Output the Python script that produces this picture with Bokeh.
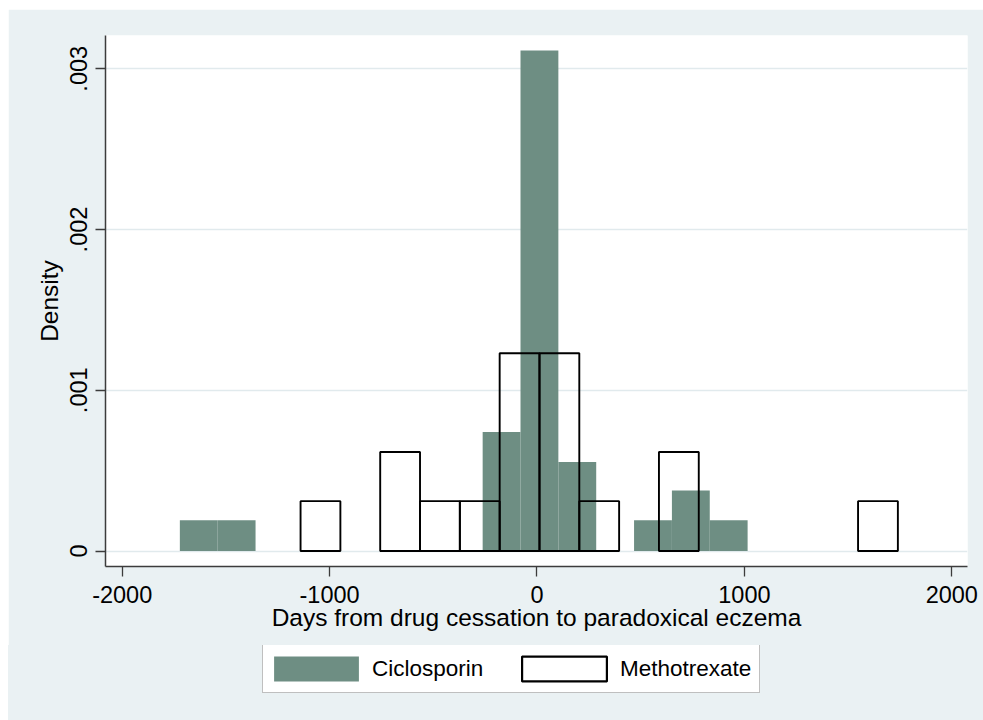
from bokeh.plotting import figure
from bokeh.layouts import column
from bokeh.models import Range1d, FixedTicker, Legend, LegendItem
from bokeh.embed import file_html
from bokeh.resources import INLINE

# ---- data ----
cic_left = [-1722.0, -1539.5, -262.0, -79.5, 103.0, 468.0, 650.5, 833.0]
cic_right = [-1539.5, -1357.0, -79.5, 103.0, 285.5, 650.5, 833.0, 1015.5]
cic_density = [0.000191, 0.000191, 0.00074, 0.003114, 0.000553, 0.000191, 0.000376, 0.000191]

mtx_left = [-1140, -756, -564, -372, -180, 12, 204, 588, 1548]
mtx_right = [-948, -564, -372, -180, 12, 204, 396, 780, 1740]
mtx_density = [0.00031, 0.000616, 0.00031, 0.00031, 0.00123, 0.00123, 0.00031, 0.000616, 0.00031]

x_ticks = [-2000, -1000, 0, 1000, 2000]
x_tick_labels = ["-2000", "-1000", "0", "1000", "2000"]
y_ticks = [0, 0.001, 0.002, 0.003]
y_tick_labels = ["0", ".001", ".002", ".003"]

series_names = ["Ciclosporin", "Methotrexate"]
x_title = "Days from drug cessation to paradoxical eczema"
y_title = "Density"

GREEN = "#6e8e83"
BG = "#eaf1f3"
FONT = "Liberation Sans"

p = figure(width=975, height=636, output_backend="svg", toolbar_location=None,
           x_range=Range1d(-2080.5, 2075.7), y_range=Range1d(-0.0000964, 0.003207),
           min_border_left=97, min_border_right=16, min_border_top=26, min_border_bottom=79,
           background_fill_color="white", border_fill_color=BG, outline_line_color=None)
p.margin = (9, 0, 0, 8)

p.quad(left=cic_left, right=cic_right, bottom=0, top=cic_density,
       fill_color=GREEN, line_color=None)
p.quad(left=mtx_left, right=mtx_right, bottom=0, top=mtx_density,
       fill_alpha=0, line_color="black", line_width=1.9)

# axes
p.xaxis.ticker = FixedTicker(ticks=x_ticks)
p.xaxis.major_label_overrides = dict(zip(x_ticks, x_tick_labels))
p.yaxis.ticker = FixedTicker(ticks=y_ticks)
p.yaxis.major_label_overrides = dict(zip(y_ticks, y_tick_labels))
p.yaxis.major_label_orientation = "vertical"
p.xaxis.axis_label = x_title
p.yaxis.axis_label = y_title
for ax in (p.xaxis, p.yaxis):
    ax.axis_line_color = "#3c3c3c"
    ax.axis_line_width = 1.5
    ax.major_tick_line_color = "#3c3c3c"
    ax.major_tick_line_width = 1.3
    ax.major_tick_out = 10
    ax.major_tick_in = 0
    ax.minor_tick_out = 0
    ax.minor_tick_in = 0
    ax.major_label_text_font = FONT
    ax.major_label_text_font_size = "23.5px"
    ax.major_label_text_color = "black"
    ax.axis_label_text_font = FONT
    ax.axis_label_text_font_size = "24.5px"
    ax.axis_label_text_font_style = "normal"
    ax.axis_label_text_color = "black"
p.xaxis.major_label_standoff = 9
p.xaxis.axis_label_standoff = -2
p.yaxis.major_label_standoff = 8
p.yaxis.axis_label_standoff = 5

p.xgrid.visible = False
p.ygrid.ticker = FixedTicker(ticks=y_ticks)
p.ygrid.grid_line_color = "#e1eaed"
p.ygrid.grid_line_width = 1.5

# legend strip (separate panel below the chart; its swatch glyphs sit outside its view)
p2 = figure(width=975, height=75, output_backend="svg", toolbar_location=None,
            x_range=Range1d(0, 1), y_range=Range1d(1, 2),
            x_axis_type=None, y_axis_type=None, min_border=0,
            background_fill_color=None, border_fill_color=None, outline_line_color=None)
p2.margin = (0, 0, 0, 8)
p2.styles = {"background-color": BG}
p2.grid.visible = False
g1 = p2.quad(left=cic_left, right=cic_right, bottom=0, top=cic_density,
             fill_color=GREEN, line_color=None)
g2 = p2.quad(left=mtx_left, right=mtx_right, bottom=0, top=mtx_density,
             fill_alpha=0, line_color="black", line_width=2.2)

legend = Legend(items=[LegendItem(label=series_names[0], renderers=[g1]),
                       LegendItem(label=series_names[1], renderers=[g2])],
                location=(157, 27), orientation="horizontal",
                glyph_width=106, glyph_height=31, label_standoff=3, spacing=0,
                padding=0, label_width=139, label_height=47,
                label_text_font=FONT, label_text_font_size="22.5px",
                label_text_color="black",
                border_line_color="#808080", border_line_width=1,
                background_fill_color="white", background_fill_alpha=1, margin=0)
p2.add_layout(legend)

layout = column(p, p2, spacing=0)
open("out.html", "w").write(file_html(layout, INLINE))
